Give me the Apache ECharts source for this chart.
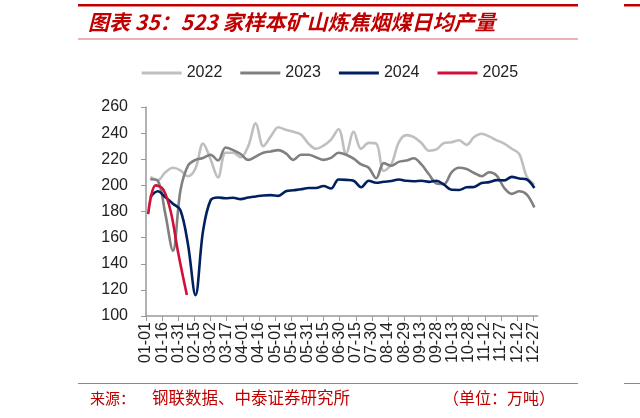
<!DOCTYPE html>
<html><head><meta charset="utf-8">
<script src="https://cdn.jsdelivr.net/npm/echarts@6/dist/echarts.min.js"></script>
<style>html,body{margin:0;padding:0;background:#fff}#c{width:640px;height:418px}</style>
</head><body><div id="c"></div>
<script>
// ---- data ----
const seriesNames = ['2022', '2023', '2024', '2025'];
const seriesColors = ['#BFBFBF', '#808080', '#002060', '#D0103A'];
const start2022 = '01-05';
const start2023 = '01-05';
const start2024 = '01-05';
const values2022 = [206.5, 204, 210, 213.5, 211.5, 207, 213, 232, 220, 206, 225, 225, 221.5, 230, 247.5, 230, 237.5, 244.5, 242.5, 241, 239, 232, 228, 230.5, 235, 243, 224, 241, 228, 232.5, 232, 211, 216, 233, 238.5, 237, 232.5, 226.5, 227.5, 232.5, 233, 234.5, 231, 237, 239.5, 237.5, 234.5, 232, 228, 224, 206.5, 200.5];
const values2023 = [204.7, 203.5, 178, 150, 196, 215, 219.5, 221, 223.5, 219, 229, 227, 224, 219.5, 222, 225, 226, 227, 224.5, 219.5, 223.5, 223.5, 221.5, 219.5, 221, 225, 223.5, 220.5, 216, 213.5, 205.5, 217, 215, 218, 219, 220.8, 216, 208.5, 201.5, 201, 210, 213.5, 212.5, 209.5, 207, 210, 207.5, 198, 193.5, 195.5, 193, 183];
const values2024 = [191, 195.5, 191, 186, 181, 155, 116, 165, 188.5, 190.7, 190.2, 190.5, 189.5, 190.7, 191.5, 192.3, 192.5, 192, 195.5, 196.3, 197, 198, 198, 199.5, 197.6, 204.5, 204.2, 203.5, 198.6, 203.5, 202, 202.8, 203.3, 204.5, 203.5, 203.2, 203.5, 202.7, 203.5, 200.5, 196.6, 196.5, 198.5, 198.8, 201.8, 202.5, 204, 203.8, 206.5, 205.3, 204.5, 198];
const dates2025 = ['01-03', '01-10', '01-17', '01-24', '01-31', '02-08'];
const values2025 = [178, 200, 197, 180, 148, 116];
const yMin = 100, yMax = 260, yStep = 20;
const labelEvery = 15; // days between x tick labels
const titleText = '图表 35：523 家样本矿山炼焦烟煤日均产量';
const sourceLeft = '来源：';
const sourceMid = '钢联数据、中泰证券研究所';
const unitText = '（单位：万吨）';

// ---- derived ----
const monthDays = [31, 28, 31, 30, 31, 30, 31, 31, 30, 31, 30, 31];
const categories = [];
monthDays.forEach((n, m) => { for (let d = 1; d <= n; d++) categories.push(String(m + 1).padStart(2, '0') + '-' + String(d).padStart(2, '0')); });
function weeklyDates(start, n) { const i0 = categories.indexOf(start); return Array.from({length: n}, (_, k) => categories[Math.min(i0 + 7 * k, categories.length - 1)]); }
const dates2022 = weeklyDates(start2022, values2022.length);
const dates2023 = weeklyDates(start2023, values2023.length);
const dates2024 = weeklyDates(start2024, values2024.length);
const allDates = [dates2022, dates2023, dates2024, dates2025];
const allValues = [values2022, values2023, values2024, values2025];

const FONT = '"Liberation Sans", Arial, sans-serif';
const CJK = '"Noto Sans CJK SC", sans-serif';
const chart = echarts.init(document.getElementById('c'), null, {renderer: 'canvas'});
chart.setOption({
  animation: false,
  backgroundColor: '#fff',
  legend: {
    data: seriesNames, top: 60, left: 136.7, icon: 'rect', itemWidth: 40, itemHeight: 3, itemGap: 18,
    textStyle: {fontSize: 16, color: '#222', fontFamily: FONT}
  },
  grid: {left: 146, right: 102.4, top: 107, bottom: 102, containLabel: false},
  xAxis: {
    type: 'category', data: categories, boundaryGap: false,
    axisLine: {lineStyle: {color: '#999', width: 1.5}},
    axisTick: {interval: labelEvery - 1, length: 5, lineStyle: {color: '#999', width: 1}},
    axisLabel: {interval: labelEvery - 1, rotate: 90, fontSize: 16, color: '#222', margin: 6, fontFamily: FONT}
  },
  yAxis: {
    type: 'value', min: yMin, max: yMax, interval: yStep,
    splitLine: {show: false},
    axisLine: {show: true, lineStyle: {color: '#999', width: 1.5}},
    axisTick: {show: true, length: 5, lineStyle: {color: '#999', width: 1}},
    axisLabel: {fontSize: 16, color: '#222', margin: 18, fontFamily: FONT}
  },
  series: seriesNames.map((name, k) => ({
    name, type: 'line', showSymbol: false, smooth: 0.35,
    color: seriesColors[k],
    lineStyle: {width: 2.6, color: seriesColors[k]},
    data: allDates[k].map((d, i) => [d, allValues[k][i]])
  })),
  graphic: [
    {type: 'rect', shape: {x: 78, y: 4, width: 500, height: 2.5}, style: {fill: '#C00000'}},
    {type: 'rect', shape: {x: 624, y: 4, width: 16, height: 2.5}, style: {fill: '#C00000'}},
    {type: 'text', style: {text: titleText, x: 88, y: 22, verticalAlign: 'middle', font: 'italic bold 21px ' + CJK, fill: '#C00000'}},
    {type: 'rect', shape: {x: 78, y: 38.5, width: 500, height: 1}, style: {fill: '#D66'}},
    {type: 'rect', shape: {x: 78, y: 383, width: 500, height: 1}, style: {fill: '#D66'}},
    {type: 'rect', shape: {x: 624, y: 383, width: 16, height: 1}, style: {fill: '#D66'}},
    {type: 'text', style: {text: sourceLeft, x: 90, y: 398, verticalAlign: 'middle', font: '15px ' + CJK, fill: '#C00000'}},
    {type: 'text', style: {text: sourceMid, x: 152, y: 398, verticalAlign: 'middle', font: '16.5px ' + CJK, fill: '#C00000'}},
    {type: 'text', style: {text: unitText, x: 443, y: 398, verticalAlign: 'middle', font: '16px ' + CJK, fill: '#C00000'}}
  ]
});
</script></body></html>
